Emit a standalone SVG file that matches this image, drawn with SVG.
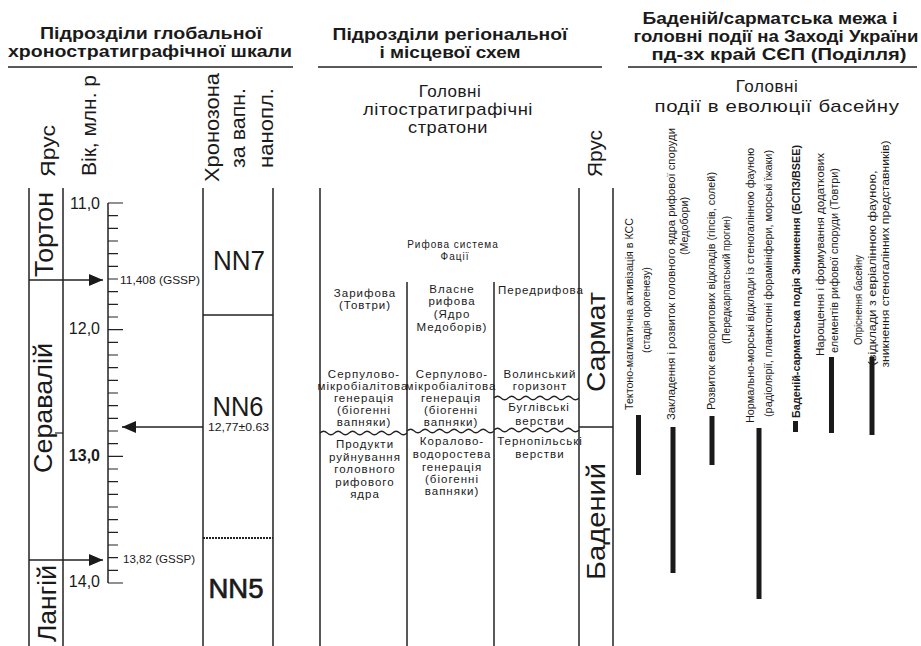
<svg xmlns="http://www.w3.org/2000/svg" width="921" height="646" viewBox="0 0 921 646">
<style>
text{font-family:"Liberation Sans",Arial,sans-serif;fill:#1a1a1a}
.h{font-size:17px;font-weight:bold;text-anchor:middle}
.sub{font-size:17px;text-anchor:middle;letter-spacing:0.5px}
.big{font-size:26px}
.lab{font-size:21px}
.nn{font-size:28px}
.ax{font-size:16px;text-anchor:end}
.sm{font-size:11px}
.fac{font-size:11.5px;letter-spacing:1px;text-anchor:middle}
.rif{font-size:10px;letter-spacing:1px;text-anchor:middle}
.ev{font-size:10px}
.evm{font-size:10px;text-anchor:middle}
.ln{stroke:#222;stroke-width:1.5;fill:none}
.thin{stroke:#222;stroke-width:1.2;fill:none}
.bar{fill:#1a1a1a}
</style>
<defs>
<marker id="ah" viewBox="0 0 14 12" refX="14" refY="6" markerWidth="14" markerHeight="12" markerUnits="userSpaceOnUse" orient="auto">
<path d="M0,0 L14,6 L0,12 z" fill="#1a1a1a"/>
</marker>
</defs>
<rect width="921" height="646" fill="#fff"/>

<g id="header-global">
<text class="h" x="151" y="39" textLength="222" lengthAdjust="spacingAndGlyphs">Підрозділи глобальної</text>
<text class="h" x="150" y="57" textLength="284" lengthAdjust="spacingAndGlyphs">хроностратиграфічної шкали</text>
<line class="ln" x1="8" y1="67" x2="293" y2="67"/>
</g>

<g id="header-regional">
<text class="h" x="450" y="40" textLength="235" lengthAdjust="spacingAndGlyphs">Підрозділи регіональної</text>
<text class="h" x="450" y="58" textLength="141" lengthAdjust="spacingAndGlyphs">і місцевої схем</text>
<line class="ln" x1="318" y1="67" x2="602" y2="67"/>
</g>

<g id="header-events">
<text class="h" x="770" y="24" textLength="255" lengthAdjust="spacingAndGlyphs">Баденій/сарматська межа і</text>
<text class="h" x="776" y="42" textLength="285" lengthAdjust="spacingAndGlyphs">головні події на Заході України</text>
<text class="h" x="779" y="60" textLength="255" lengthAdjust="spacingAndGlyphs">пд-зх край СЄП (Поділля)</text>
<line class="ln" x1="628" y1="67" x2="917" y2="67"/>
</g>

<g id="col-stage-global">
<line class="ln" x1="29" y1="188" x2="29" y2="646"/>
<line class="ln" x1="63" y1="188" x2="63" y2="646"/>
<line class="thin" x1="55" y1="433" x2="63" y2="433"/>
<text class="lab" transform="translate(55,177) rotate(-90)" textLength="52" lengthAdjust="spacingAndGlyphs">Ярус</text>
<text class="big" transform="translate(53,277) rotate(-90)" textLength="85" lengthAdjust="spacingAndGlyphs">Тортон</text>
<text class="big" transform="translate(52,473) rotate(-90)" textLength="130" lengthAdjust="spacingAndGlyphs">Серавалій</text>
<text class="big" transform="translate(56,642) rotate(-90)" textLength="77" lengthAdjust="spacingAndGlyphs">Лангій</text>
</g>

<g id="col-age">
<text class="lab" transform="translate(96,176) rotate(-90)" textLength="101" lengthAdjust="spacingAndGlyphs">Вік, млн. р</text>
<line class="ln" x1="108" y1="203" x2="108" y2="583"/>
<path class="thin" d="M108,203h15M108,215.67h10M108,228.33h10M108,241h10M108,253.67h10M108,266.33h10M108,279h10M108,291.67h10M108,304.33h10M108,317h10M108,329.67h15M108,342.33h10M108,355h10M108,367.67h10M108,380.33h10M108,393h10M108,405.67h10M108,418.33h10M108,431h10M108,443.67h10M108,456.33h15M108,469h10M108,481.67h10M108,494.33h10M108,507h10M108,519.67h10M108,532.33h10M108,545h10M108,557.67h10M108,570.33h10M108,583h15"/>
<text class="ax" x="100" y="209">11,0</text>
<text class="ax" x="100" y="334">12,0</text>
<text class="ax" x="100" y="461" font-weight="bold">13,0</text>
<text class="ax" x="100" y="587">14,0</text>
<text class="sm" x="120" y="284" textLength="80" lengthAdjust="spacingAndGlyphs">11,408 (GSSP)</text>
<text class="sm" x="123" y="563" textLength="72" lengthAdjust="spacingAndGlyphs">13,82 (GSSP)</text>
</g>

<g id="col-chronozone">
<text class="lab" transform="translate(219,182) rotate(-90)" textLength="109" lengthAdjust="spacingAndGlyphs">Хронозона</text>
<text class="lab" transform="translate(245,168) rotate(-90)" textLength="80" lengthAdjust="spacingAndGlyphs">за вапн.</text>
<text class="lab" transform="translate(273,168) rotate(-90)" textLength="80" lengthAdjust="spacingAndGlyphs">нанопл.</text>
<line class="ln" x1="203" y1="188" x2="203" y2="646"/>
<line class="ln" x1="273" y1="188" x2="273" y2="646"/>
<line class="ln" x1="203" y1="315" x2="273" y2="315"/>
<line x1="203" y1="538" x2="273" y2="538" stroke="#222" stroke-width="2" stroke-dasharray="2,1"/>
<text class="nn" x="239" y="270" text-anchor="middle" textLength="52" lengthAdjust="spacingAndGlyphs">NN7</text>
<text class="nn" x="238" y="416" text-anchor="middle" textLength="51" lengthAdjust="spacingAndGlyphs">NN6</text>
<text class="nn" x="236" y="598" text-anchor="middle" stroke="#1a1a1a" stroke-width="0.7" textLength="55" lengthAdjust="spacingAndGlyphs">NN5</text>
<text class="sm" x="208" y="431" textLength="61" lengthAdjust="spacingAndGlyphs">12,77±0.63</text>
</g>

<g id="connectors">
<line class="ln" x1="29" y1="280" x2="103" y2="280" marker-end="url(#ah)"/>
<line class="ln" x1="29" y1="560" x2="103" y2="560" marker-end="url(#ah)"/>
<line class="ln" x1="203" y1="427" x2="122" y2="427" marker-end="url(#ah)"/>
</g>

<g id="col-lithostrat">
<text class="sub" x="450" y="97">Головні</text>
<text class="sub" x="448" y="115" textLength="170" lengthAdjust="spacingAndGlyphs">літостратиграфічні</text>
<text class="sub" x="448" y="133" textLength="80" lengthAdjust="spacingAndGlyphs">стратони</text>
<line class="ln" x1="320" y1="188" x2="320" y2="646"/>
<line class="ln" x1="579" y1="188" x2="579" y2="646"/>
<line class="ln" x1="407" y1="282" x2="407" y2="646"/>
<line class="ln" x1="494" y1="282" x2="494" y2="646"/>
<text class="rif" x="453" y="248">Рифова система</text>
<text class="rif" x="455" y="260">Фації</text>
<path class="thin" d="M320,433q3.6,-3.5 7.25,0t7.25,0t7.25,0t7.25,0t7.25,0t7.25,0t7.25,0t7.25,0t7.25,0t7.25,0t7.25,0t7.25,0"/>
<path class="thin" d="M407,431q3.6,-3.5 7.25,0t7.25,0t7.25,0t7.25,0t7.25,0t7.25,0t7.25,0t7.25,0t7.25,0t7.25,0t7.25,0t7.25,0"/>
<path class="thin" d="M494,430q3.55,-3.5 7.08,0t7.08,0t7.08,0t7.08,0t7.08,0t7.08,0t7.08,0t7.08,0t7.08,0t7.08,0t7.08,0t7.08,0"/>
<path class="thin" d="M494,398q3.55,-3.5 7.08,0t7.08,0t7.08,0t7.08,0t7.08,0t7.08,0t7.08,0t7.08,0t7.08,0t7.08,0t7.08,0t7.08,0"/>
</g>

<g id="facies-backreef">
<text class="fac" x="365" y="297">Зарифова</text>
<text class="fac" x="365" y="309">(Товтри)</text>
<text class="fac" x="364" y="378">Серпулово-</text>
<text class="fac" x="363" y="390">мікробіалітова</text>
<text class="fac" x="364" y="402">генерація</text>
<text class="fac" x="364" y="414">(біогенні</text>
<text class="fac" x="364" y="426">вапняки)</text>
<text class="fac" x="365" y="448">Продукти</text>
<text class="fac" x="365" y="461">руйнування</text>
<text class="fac" x="365" y="473">головного</text>
<text class="fac" x="365" y="486">рифового</text>
<text class="fac" x="365" y="498">ядра</text>
</g>

<g id="facies-reef">
<text class="fac" x="452" y="293">Власне</text>
<text class="fac" x="452" y="305">рифова</text>
<text class="fac" x="452" y="318">(Ядро</text>
<text class="fac" x="452" y="331">Медоборів)</text>
<text class="fac" x="452" y="378">Серпулово-</text>
<text class="fac" x="451" y="390">мікробіалітова</text>
<text class="fac" x="451" y="402">генерація</text>
<text class="fac" x="451" y="414">(біогенні</text>
<text class="fac" x="451" y="426">вапняки)</text>
<text class="fac" x="452" y="445">Коралово-</text>
<text class="fac" x="452" y="458">водоростева</text>
<text class="fac" x="452" y="471">генерація</text>
<text class="fac" x="452" y="483">(біогенні</text>
<text class="fac" x="452" y="495">вапняки)</text>
</g>

<g id="facies-forereef">
<text class="fac" x="541" y="294">Передрифова</text>
<text class="fac" x="540" y="378">Волинський</text>
<text class="fac" x="540" y="390">горизонт</text>
<text class="fac" x="539" y="411">Буглівські</text>
<text class="fac" x="540" y="425">верстви</text>
<text class="fac" x="540" y="445">Тернопільські</text>
<text class="fac" x="540" y="458">верстви</text>
</g>

<g id="col-stage-regional">
<line class="ln" x1="613" y1="188" x2="613" y2="646"/>
<line class="ln" x1="579" y1="427" x2="613" y2="427"/>
<text class="lab" transform="translate(602,177) rotate(-90)" textLength="47" lengthAdjust="spacingAndGlyphs">Ярус</text>
<text class="big" transform="translate(605,392) rotate(-90)" textLength="100" lengthAdjust="spacingAndGlyphs">Сармат</text>
<text class="big" transform="translate(605,580) rotate(-90)" textLength="117" lengthAdjust="spacingAndGlyphs">Бадений</text>
</g>

<g id="col-events">
<text class="sub" x="767" y="92">Головні</text>
<text class="sub" x="777" y="112" textLength="245" lengthAdjust="spacingAndGlyphs">події в еволюції басейну</text>
</g>

<g id="event-1">
<text class="ev" transform="translate(633,410) rotate(-90)" textLength="192" lengthAdjust="spacingAndGlyphs">Тектоно-магматична активізація в КСС</text>
<text class="evm" transform="translate(650,310) rotate(-90)" textLength="86" lengthAdjust="spacingAndGlyphs">(стадія орогенезу)</text>
<rect class="bar" x="636" y="415" width="5" height="60"/>
</g>
<g id="event-2">
<text class="ev" transform="translate(675,420) rotate(-90)" textLength="292" lengthAdjust="spacingAndGlyphs">Закладення і розвиток головного ядра рифової споруди</text>
<text class="evm" transform="translate(688,226) rotate(-90)" textLength="58" lengthAdjust="spacingAndGlyphs">(Медобори)</text>
<rect class="bar" x="670.5" y="427" width="5" height="146"/>
</g>
<g id="event-3">
<text class="ev" transform="translate(715,410) rotate(-90)" textLength="238" lengthAdjust="spacingAndGlyphs">Розвиток евапоритових відкладів (гіпсів, солей)</text>
<text class="evm" transform="translate(730,280) rotate(-90)" textLength="128" lengthAdjust="spacingAndGlyphs">(Передкарпатський прогин)</text>
<rect class="bar" x="709.5" y="416" width="5" height="49"/>
</g>
<g id="event-4">
<text class="ev" transform="translate(754,423) rotate(-90)" textLength="275" lengthAdjust="spacingAndGlyphs">Нормально-морські відклади із стеногалінною фауною</text>
<text class="ev" transform="translate(772,417) rotate(-90)" textLength="267" lengthAdjust="spacingAndGlyphs">(радіолярії, планктонні форамініфери, морські їжаки)</text>
<rect class="bar" x="756.5" y="428" width="5" height="171"/>
</g>
<g id="event-5">
<rect class="bar" x="793" y="421" width="5" height="11"/>
<text class="ev" font-weight="bold" transform="translate(800,418) rotate(-90)" textLength="273" lengthAdjust="spacingAndGlyphs">Баденій-сарматська подія Зникнення (БСПЗ/BSEE)</text>
</g>
<g id="event-6">
<text class="ev" transform="translate(824,356) rotate(-90)" textLength="203" lengthAdjust="spacingAndGlyphs">Нарощення і формування додаткових</text>
<text class="ev" transform="translate(838,353) rotate(-90)" textLength="185" lengthAdjust="spacingAndGlyphs">елементів рифової споруди (Товтри)</text>
<rect class="bar" x="829" y="357" width="5" height="76"/>
</g>
<g id="event-7">
<text class="evm" transform="translate(862,300) rotate(-90)" textLength="90" lengthAdjust="spacingAndGlyphs">Опріснення басейну</text>
<text class="evm" transform="translate(876,268) rotate(-90)" textLength="195" lengthAdjust="spacingAndGlyphs">(відклади з евріалінною фауною,</text>
<text class="evm" transform="translate(889,254) rotate(-90)" textLength="227" lengthAdjust="spacingAndGlyphs">зникнення стеногалінних представників)</text>
<rect class="bar" x="869.5" y="357" width="5" height="78"/>
</g>
</svg>
